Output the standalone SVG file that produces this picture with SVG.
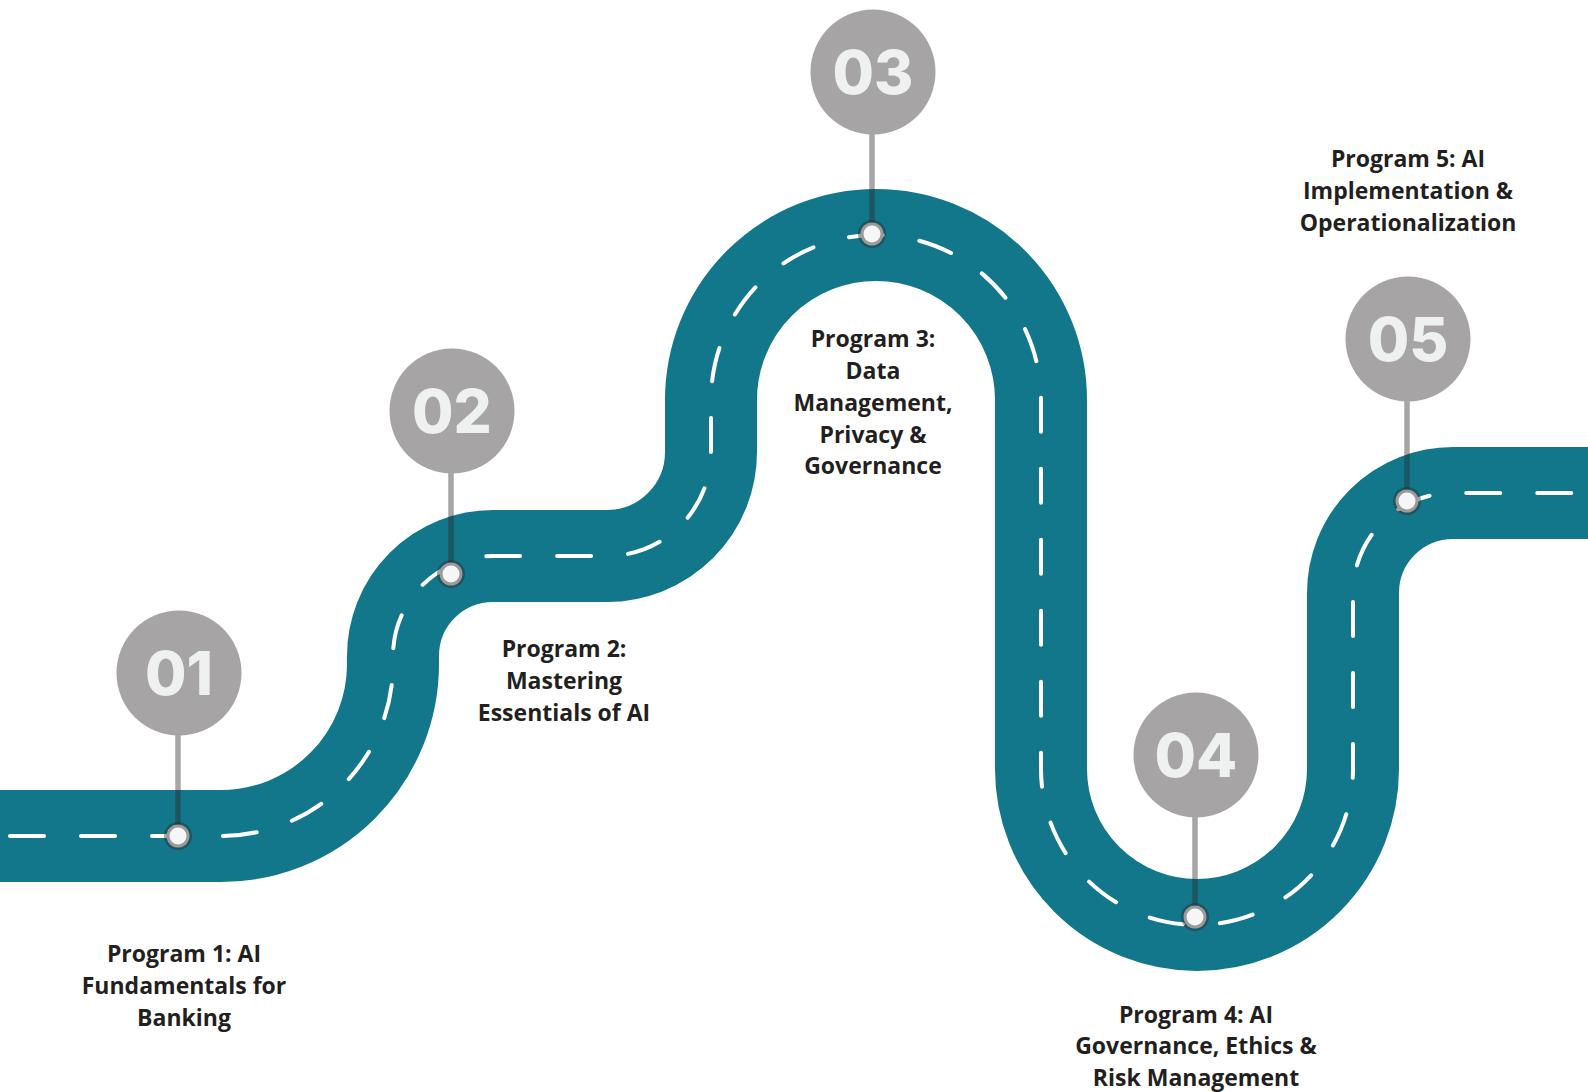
<svg xmlns="http://www.w3.org/2000/svg" width="1588" height="1092" viewBox="0 0 1588 1092">
  <style>
    .road { fill: none; stroke: #13778b; stroke-width: 92; }
    .lane { fill: none; stroke: #ffffff; stroke-width: 4; stroke-linecap: round; stroke-dasharray: 34 37; stroke-dashoffset: 61; }
    .badge { fill: #a6a4a5; }
    .num { font-family: "Inter", "Open Sans", "Liberation Sans", sans-serif; font-weight: 800; font-size: 60px; fill: #eff1f0; text-anchor: middle; }
    .stem { stroke: #282828; stroke-opacity: 0.41; stroke-width: 5.5; }
    .ring { fill: #282828; fill-opacity: 0.41; }
    .rim { fill: #9c9a9b; }
    .pin { fill: #f6f6f6; }
    .label { font-family: "Open Sans", "Liberation Sans", sans-serif; font-weight: 700; font-size: 23px; fill: #231f20; text-anchor: middle; }
  </style>
  <rect width="1588" height="1092" fill="#ffffff"/>
  <g id="connectors">
    <path class="road" d="M -10 836 H 221 A 172 172 0 0 0 393 664 V 656 A 100 100 0 0 1 493 556 H 607 A 104 104 0 0 0 711 452 V 400 A 165 165 0 0 1 1041 400 V 769 A 156 156 0 0 0 1353 769 V 593 A 100 100 0 0 1 1453 493 H 1600"/>
    <path class="lane" d="M 0 836 H 221 A 172 172 0 0 0 393 664 V 656 A 100 100 0 0 1 493 556 H 607 A 104 104 0 0 0 711 452 V 400 A 165 165 0 0 1 1041 400 V 769 A 156 156 0 0 0 1353 769 V 593 A 100 100 0 0 1 1453 493 H 1588"/>
  </g>
  <g id="node1">
    <line class="stem" x1="178" y1="735" x2="178" y2="836"/>
    <circle class="ring" cx="178" cy="836" r="14"/>
    <circle class="rim" cx="178" cy="836" r="11.5"/>
    <circle class="pin" cx="178" cy="836" r="8.5"/>
    <circle class="badge" cx="179" cy="673" r="62.5"/>
    <text class="num" x="179" y="695">01</text>
    <text class="label" x="184"><tspan x="184" y="962">Program 1: AI</tspan><tspan x="184" y="994">Fundamentals for</tspan><tspan x="184" y="1026">Banking</tspan></text>
  </g>
  <g id="node2">
    <line class="stem" x1="451" y1="473" x2="451" y2="574"/>
    <circle class="ring" cx="451" cy="574" r="14"/>
    <circle class="rim" cx="451" cy="574" r="11.5"/>
    <circle class="pin" cx="451" cy="574" r="8.5"/>
    <circle class="badge" cx="452" cy="411" r="62.5"/>
    <text class="num" x="452" y="433">02</text>
    <text class="label" x="564"><tspan x="564" y="657">Program 2:</tspan><tspan x="564" y="689">Mastering</tspan><tspan x="564" y="721">Essentials of AI</tspan></text>
  </g>
  <g id="node3">
    <line class="stem" x1="872" y1="134" x2="872" y2="234"/>
    <circle class="ring" cx="872" cy="234" r="14"/>
    <circle class="rim" cx="872" cy="234" r="11.5"/>
    <circle class="pin" cx="872" cy="234" r="8.5"/>
    <circle class="badge" cx="873" cy="72" r="62.5"/>
    <text class="num" x="873" y="94">03</text>
    <text class="label" x="873"><tspan x="873" y="347">Program 3:</tspan><tspan x="873" y="379">Data</tspan><tspan x="873" y="411">Management,</tspan><tspan x="873" y="443">Privacy &amp;</tspan><tspan x="873" y="474">Governance</tspan></text>
  </g>
  <g id="node4">
    <line class="stem" x1="1195" y1="817" x2="1195" y2="917"/>
    <circle class="ring" cx="1195" cy="917" r="14"/>
    <circle class="rim" cx="1195" cy="917" r="11.5"/>
    <circle class="pin" cx="1195" cy="917" r="8.5"/>
    <circle class="badge" cx="1196" cy="755" r="62.5"/>
    <text class="num" x="1196" y="777">04</text>
    <text class="label" x="1196"><tspan x="1196" y="1023">Program 4: AI</tspan><tspan x="1196" y="1054">Governance, Ethics &amp;</tspan><tspan x="1196" y="1086">Risk Management</tspan></text>
  </g>
  <g id="node5">
    <line class="stem" x1="1407" y1="401" x2="1407" y2="501"/>
    <circle class="ring" cx="1407" cy="501" r="14"/>
    <circle class="rim" cx="1407" cy="501" r="11.5"/>
    <circle class="pin" cx="1407" cy="501" r="8.5"/>
    <circle class="badge" cx="1408" cy="339" r="62.5"/>
    <text class="num" x="1408" y="361">05</text>
    <text class="label" x="1408"><tspan x="1408" y="167">Program 5: AI</tspan><tspan x="1408" y="199">Implementation &amp;</tspan><tspan x="1408" y="231">Operationalization</tspan></text>
  </g>
</svg>
